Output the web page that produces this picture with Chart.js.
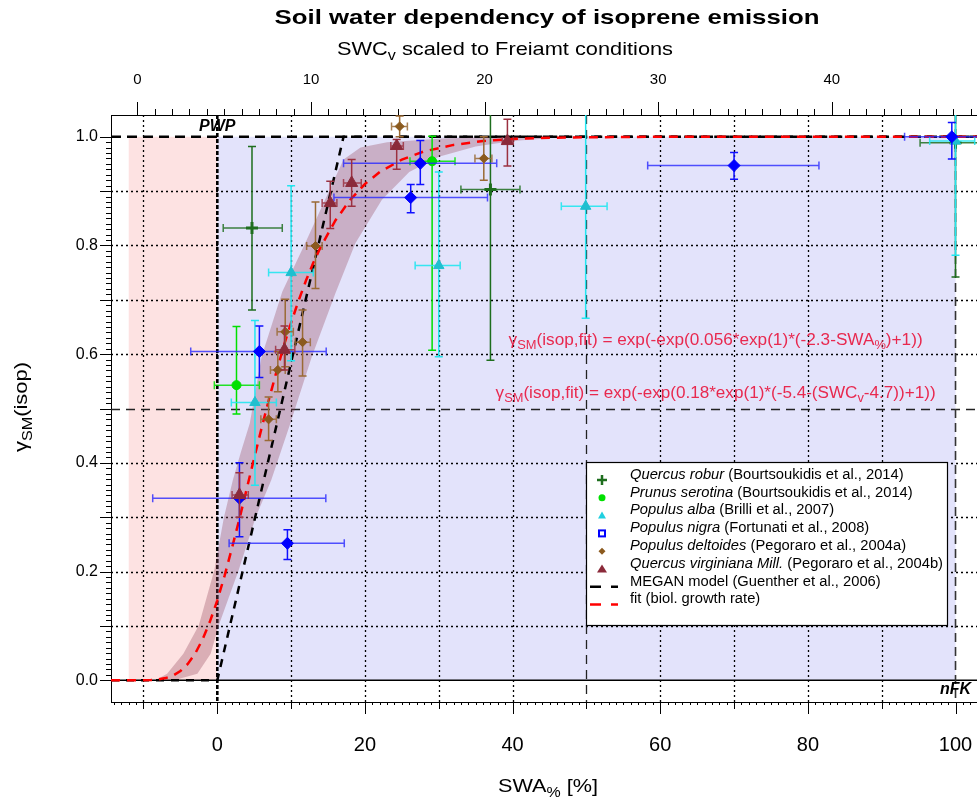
<!DOCTYPE html>
<html>
<head>
<meta charset="utf-8">
<script src="https://cdn.jsdelivr.net/npm/chart.js@4.4.1/dist/chart.umd.min.js"></script>
<style>
  html, body { margin: 0; padding: 0; background: #fff; overflow: hidden; }
  canvas { display: block; }
</style>
</head>
<body>
<canvas id="chart" width="990" height="803"></canvas>
<script>
const FONT = '"Liberation Sans", Arial, sans-serif';

// --- Data ---
// rows: [SWA%, gamma, SWA low, SWA high, gamma low, gamma high]
const quercusRobur = [
  [4.7, 0.832, 0.8, 8.8, 0.681, 0.982],
  [37.0, 0.903, 33.0, 41.0, 0.589, 1.10],
  [100.0, 0.989, 95.2, 108, 0.742, 1.10],
];
const prunusSerotina = [
  [2.6, 0.543, -0.4, 5.7, 0.490, 0.651],
  [29.1, 0.955, 26.1, 32.2, 0.607, 1.001],
];
const populusAlba = [
  [10.0, 0.750, 6.95, 13.0, 0.588, 0.910],
  [5.1, 0.511, 1.9, 8.0, 0.359, 0.662],
  [30.0, 0.763, 26.8, 32.9, 0.595, 0.935],
  [49.9, 0.872, 46.6, 52.8, 0.666, 1.10],
  [100.0, 0.992, 96.5, 102.6, 0.782, 1.10],
];
const populusNigra = [
  [5.7, 0.605, -3.6, 14.75, 0.557, 0.652],
  [3.0, 0.335, -8.75, 14.7, 0.264, 0.400],
  [9.5, 0.252, 1.6, 17.2, 0.222, 0.277],
  [26.2, 0.888, 15.8, 36.6, 0.860, 0.912],
  [27.5, 0.951, 17.1, 37.85, 0.912, 0.993],
  [70.0, 0.947, 58.3, 81.5, 0.922, 0.971],
  [99.5, 1.000, 93.1, 108, 0.959, 1.026],
];
const populusDeltoides = [
  [24.7, 1.019, 23.6, 25.75, 1.000, 1.038],
  [36.1, 0.960, 34.9, 37.2, 0.920, 1.000],
  [13.3, 0.799, 12.1, 14.2, 0.721, 0.880],
  [11.55, 0.622, 10.55, 12.6, 0.560, 0.681],
  [9.2, 0.641, 8.1, 10.3, 0.577, 0.701],
  [8.2, 0.571, 7.2, 9.2, 0.531, 0.605],
  [6.95, 0.480, 5.9, 8.0, 0.441, 0.521],
];
const quercusVirginiana = [
  [18.2, 0.915, 17.1, 19.5, 0.872, 0.958],
  [15.3, 0.878, 14.2, 16.2, 0.831, 0.918],
  [24.3, 0.983, 23.5, 25.2, 0.940, 0.995],
  [39.3, 0.992, 38.6, 40.1, 0.946, 1.032],
  [9.1, 0.608, 7.9, 10.5, 0.571, 0.652],
  [3.0, 0.341, 2.0, 4.2, 0.300, 0.382],
];

// MEGAN model (piecewise linear)
const meganX = [-14.4, 0, 17.1, 104.4];
const meganY = [0, 0, 1, 1];

// fitted curve
const fitX = [-14.4, -12, -10, -9, -8, -7, -6, -5, -4, -3, -2, -1, 0, 1, 2, 3, 4, 5, 6, 7, 8, 9,
  10, 11, 12, 13, 14, 16, 18, 20, 22, 25, 28, 32, 36, 40, 45, 50, 60, 104.4];
const fitY = [0, 0, 0.0002, 0.0005, 0.0015, 0.004, 0.0085, 0.017, 0.030, 0.049, 0.075, 0.108,
  0.147, 0.193, 0.244, 0.297, 0.353, 0.409, 0.464, 0.517, 0.567, 0.615, 0.658, 0.698, 0.735,
  0.768, 0.797, 0.846, 0.884, 0.913, 0.935, 0.958, 0.973, 0.985, 0.992, 0.996, 0.998, 0.999, 1, 1];

// shaded band around the fit
const bandUpX = [-8.4, -6.8, -4.6, -2.5, -0.4, 0.9, 2.1, 3.2, 4.4, 6.0, 8.8, 11.9, 15.0, 17.1, 19.4, 23, 31, 40, 45];
const bandUpY = [0, 0.012, 0.049, 0.101, 0.203, 0.300, 0.368, 0.420, 0.473, 0.595, 0.715, 0.804, 0.896, 0.958, 0.980, 0.990, 0.997, 1.0, 1.0];
const bandLoX = [-8.4, -5.4, -2.7, -0.9, 0.2, 2.9, 5.2, 7.3, 9.9, 12.8, 16.0, 18.7, 22.3, 26, 30, 35, 40, 45];
const bandLoY = [0, 0.002, 0.012, 0.049, 0.101, 0.203, 0.300, 0.368, 0.473, 0.595, 0.712, 0.804, 0.884, 0.935, 0.963, 0.982, 0.992, 0.997];

// axes
const xTickVals = [0, 20, 40, 60, 80, 100];
const x2TickVals = [0, 10, 20, 30, 40];
const yTickVals = [0, 0.2, 0.4, 0.6, 0.8, 1.0];
const gridX = [-10, 10, 20, 30, 40, 60, 70, 80, 90];
const gridY = [0.1, 0.2, 0.3, 0.4, 0.6, 0.7, 0.8, 0.9];

const legendNames = ['Quercus robur', 'Prunus serotina', 'Populus alba', 'Populus nigra',
  'Populus deltoides', 'Quercus virginiana Mill.', 'MEGAN model (Guenther et al., 2006)', 'fit (biol. growth rate)'];
const legendRefs = [' (Bourtsoukidis et al., 2014)', ' (Bourtsoukidis et al., 2014)', ' (Brilli et al., 2007)',
  ' (Fortunati et al., 2008)', ' (Pegoraro et al., 2004a)', ' (Pegoraro et al., 2004b)', '', ''];

const RED_TXT = '#e8294f';

// --- Helpers ---
const pts = (xs, ys) => xs.map((x, i) => ({ x, y: ys[i] }));

// parts: [text, isSub, italic, bold]; width (optional) stretches the run horizontally
function richText(ctx, parts, x, y, align, size, color, width) {
  const fontOf = p => `${p[2] ? 'italic ' : ''}${p[3] ? 'bold ' : ''}${p[1] ? Math.round(size * 0.72) : size}px ${FONT}`;
  let w = 0;
  for (const p of parts) { ctx.font = fontOf(p); w += ctx.measureText(p[0]).width; }
  const sx = width ? width / w : 1;
  ctx.save();
  const left = align === 'center' ? x - w * sx / 2 : align === 'right' ? x - w * sx : x;
  ctx.translate(left, y);
  ctx.scale(sx, 1);
  ctx.fillStyle = color;
  ctx.textBaseline = 'middle';
  ctx.textAlign = 'left';
  let cx = 0;
  for (const p of parts) {
    ctx.font = fontOf(p);
    ctx.fillText(p[0], cx, p[1] ? size * 0.3 : 0);
    cx += ctx.measureText(p[0]).width;
  }
  ctx.restore();
  return w;
}

function seriesDataset(label, rows, color, errColor, xErrColor, style, radius, order, extra) {
  return Object.assign({
    label, type: 'line', showLine: false, order,
    data: rows.map(r => ({ x: r[0], y: r[1] })),
    errRows: rows, errColor, xErrColor,
    pointStyle: style, pointRadius: radius,
    pointBackgroundColor: color, pointBorderColor: color, pointBorderWidth: 1,
  }, extra || {});
}

// --- Plugins ---
const backdrop = {
  id: 'backdrop',
  beforeDatasetsDraw(chart) {
    const { ctx, chartArea: a, scales: { x, y } } = chart;
    ctx.save();
    ctx.beginPath(); ctx.rect(a.left, a.top, a.right - a.left, a.bottom - a.top); ctx.clip();
    const y0 = y.getPixelForValue(0), y1 = y.getPixelForValue(1);
    ctx.fillStyle = '#fde2e2';
    ctx.fillRect(x.getPixelForValue(-12), y1, x.getPixelForValue(0) - x.getPixelForValue(-12), y0 - y1);
    ctx.fillStyle = '#e3e3fb';
    ctx.fillRect(x.getPixelForValue(0), y1, x.getPixelForValue(100) - x.getPixelForValue(0), y0 - y1);

    const line = (x0, y0_, x1, y1_, w, dash, col) => {
      ctx.beginPath(); ctx.lineWidth = w; ctx.setLineDash(dash); ctx.strokeStyle = col;
      ctx.moveTo(x0, y0_); ctx.lineTo(x1, y1_); ctx.stroke();
    };
    for (const v of gridX) {
      const p = Math.round(x.getPixelForValue(v)) + 0.5;
      line(p, a.top, p, a.bottom, 1.3, [2, 3], '#000');
    }
    for (const v of gridY) {
      const p = Math.round(y.getPixelForValue(v)) + 0.5;
      line(a.left, p, a.right, p, 1.3, [2, 3], '#000');
    }
    // reference lines
    const yHalf = Math.round(y.getPixelForValue(0.5)) + 0.5;
    line(a.left, yHalf, a.right, yHalf, 1.3, [9, 6], '#222');
    const x50 = Math.round(x.getPixelForValue(50)) + 0.5;
    line(x50, a.top, x50, a.bottom, 1.3, [9, 6], '#222');
    line(a.left, y0, a.right, y0, 1.5, [], '#000');
    const x100 = x.getPixelForValue(100);
    line(x100, a.top, x100, a.bottom, 1.6, [9, 5], '#333');
    line(a.left, y1, a.right, y1, 2.5, [10, 6], '#000');
    const xp = x.getPixelForValue(0);
    line(xp, a.top, xp, a.bottom, 2.6, [4, 2], '#000');
    ctx.restore();
  },
};

const errorBars = {
  id: 'errorBars',
  beforeDatasetDraw(chart, args) {
    const ds = chart.data.datasets[args.index];
    if (!ds.errRows) return;
    const { ctx, chartArea: a, scales: { x, y } } = chart;
    const cap = 4;
    ctx.save();
    ctx.beginPath(); ctx.rect(a.left, a.top, a.right - a.left, a.bottom - a.top); ctx.clip();
    ctx.lineWidth = 1.5;
    ctx.setLineDash([]);
    for (const r of ds.errRows) {
      const cx = x.getPixelForValue(r[0]), cy = y.getPixelForValue(r[1]);
      const xl = x.getPixelForValue(r[2]), xh = x.getPixelForValue(r[3]);
      const yl = y.getPixelForValue(r[4]), yh = y.getPixelForValue(r[5]);
      ctx.strokeStyle = ds.xErrColor;
      ctx.beginPath();
      ctx.moveTo(xl, cy); ctx.lineTo(xh, cy);
      ctx.moveTo(xl, cy - cap); ctx.lineTo(xl, cy + cap);
      ctx.moveTo(xh, cy - cap); ctx.lineTo(xh, cy + cap);
      ctx.stroke();
      ctx.strokeStyle = ds.errColor;
      ctx.beginPath();
      ctx.moveTo(cx, yl); ctx.lineTo(cx, yh);
      ctx.moveTo(cx - cap, yl); ctx.lineTo(cx + cap, yl);
      ctx.moveTo(cx - cap, yh); ctx.lineTo(cx + cap, yh);
      ctx.stroke();
    }
    ctx.restore();
  },
};

// tick marks and tick labels, placed through the scales
const axisTicks = {
  id: 'axisTicks',
  afterDraw(chart) {
    const { ctx, chartArea: a, scales: { x, x2, y } } = chart;
    ctx.save();
    ctx.strokeStyle = '#000';
    ctx.lineWidth = 1;
    ctx.beginPath();
    // left axis: every 0.01, longer every 0.1
    for (let i = 0; i <= 100; i++) {
      const p = Math.round(y.getPixelForValue(i / 100)) + 0.5;
      const len = i % 10 === 0 ? 11 : 5;
      ctx.moveTo(a.left - len, p); ctx.lineTo(a.left, p);
    }
    // bottom axis: every 1, longer every 10 and 20
    for (let v = -14; v <= 104; v++) {
      const p = Math.round(x.getPixelForValue(v)) + 0.5;
      const len = v % 20 === 0 ? 12 : v % 10 === 0 ? 7 : 3;
      ctx.moveTo(p, a.bottom); ctx.lineTo(p, a.bottom + len);
    }
    // top axis: every 1, longer every 10
    for (let v = 0; v <= 49; v++) {
      const p = Math.round(x2.getPixelForValue(v)) + 0.5;
      const len = v % 10 === 0 ? 13 : 6;
      ctx.moveTo(p, a.top); ctx.lineTo(p, a.top - len);
    }
    ctx.stroke();

    ctx.fillStyle = '#000';
    ctx.textBaseline = 'middle';
    ctx.textAlign = 'center';
    ctx.font = `20px ${FONT}`;
    for (const v of xTickVals) ctx.fillText(String(v), x.getPixelForValue(v), a.bottom + 43);
    ctx.font = `15px ${FONT}`;
    for (const v of x2TickVals) ctx.fillText(String(v), x2.getPixelForValue(v), a.top - 35);
    ctx.textAlign = 'right';
    ctx.font = `16px ${FONT}`;
    for (const v of yTickVals) ctx.fillText(v.toFixed(1), a.left - 13, y.getPixelForValue(v));
    ctx.restore();
  },
};

const annotations = {
  id: 'annotations',
  afterDraw(chart) {
    const { ctx, scales: { x, y } } = chart;
    ctx.save();
    // titles
    richText(ctx, [['Soil water dependency of isoprene emission', false, false, true]], 547, 18, 'center', 21, '#000', 545);
    richText(ctx, [['SWC', false], ['v', true], [' scaled to Freiamt conditions', false]], 505, 50, 'center', 19, '#000', 336);
    richText(ctx, [['SWA', false], ['%', true], [' [%]', false]], 548, 787, 'center', 19, '#000', 100);
    ctx.save();
    ctx.translate(22, 407);
    ctx.rotate(-Math.PI / 2);
    richText(ctx, [['\u03b3', false], ['SM', true], ['(isop)', false]], 0, 0, 'center', 19, '#000', 90);
    ctx.restore();

    // PWP / nFK
    richText(ctx, [['PWP', false, true, true]], x.getPixelForValue(0), 127, 'center', 16, '#000');
    richText(ctx, [['nFK', false, true, true]], x.getPixelForValue(100), 690, 'center', 16, '#000');

    // fit formulas
    const fx = x.getPixelForValue(67.5);
    richText(ctx, [['\u03b3', false], ['SM', true], ['(isop,fit) = exp(-exp(0.056*exp(1)*(-2.3-SWA', false], ['%', true], [')+1))', false]],
      fx, y.getPixelForValue(0.625), 'center', 16, RED_TXT, 414);
    richText(ctx, [['\u03b3', false], ['SM', true], ['(isop,fit) = exp(-exp(0.18*exp(1)*(-5.4-(SWC', false], ['v', true], ['-4.7))+1))', false]],
      fx, y.getPixelForValue(0.527), 'center', 16, RED_TXT, 440);

    // legend
    const bx = 586, by = 462, bw = 361, bh = 163;
    ctx.fillStyle = '#fff';
    ctx.fillRect(bx, by, bw, bh);
    ctx.strokeStyle = '#000';
    ctx.lineWidth = 1.2;
    ctx.strokeRect(bx + 0.5, by + 0.5, bw, bh);
    const sx = 602, tx = 630, lsize = 14;
    // stretch so the longest entry spans the same width as in the figure
    ctx.font = `italic ${lsize}px ${FONT}`;
    let wl = ctx.measureText(legendNames[5]).width;
    ctx.font = `${lsize}px ${FONT}`;
    wl += ctx.measureText(legendRefs[5]).width;
    const stretch = 313 / wl;
    for (let i = 0; i < legendNames.length; i++) {
      const ty = 475 + i * 17.8;
      const syy = ty + 5;
      ctx.save();
      ctx.setLineDash([]);
      if (i === 0) {
        ctx.strokeStyle = '#1e6e1e'; ctx.lineWidth = 2.5; ctx.beginPath();
        ctx.moveTo(sx - 5, syy); ctx.lineTo(sx + 5, syy); ctx.moveTo(sx, syy - 5); ctx.lineTo(sx, syy + 5); ctx.stroke();
      } else if (i === 1) {
        ctx.fillStyle = '#00e000'; ctx.beginPath(); ctx.arc(sx, syy, 3.5, 0, Math.PI * 2); ctx.fill();
      } else if (i === 2) {
        ctx.fillStyle = '#1fd0e0'; ctx.beginPath();
        ctx.moveTo(sx, syy - 4); ctx.lineTo(sx + 4, syy + 3); ctx.lineTo(sx - 4, syy + 3); ctx.closePath(); ctx.fill();
      } else if (i === 3) {
        ctx.strokeStyle = '#0000ff'; ctx.lineWidth = 2; ctx.strokeRect(sx - 3, syy - 3, 6, 6);
      } else if (i === 4) {
        ctx.fillStyle = '#8b5a1e'; ctx.beginPath();
        ctx.moveTo(sx, syy - 3.5); ctx.lineTo(sx + 3.5, syy); ctx.lineTo(sx, syy + 3.5); ctx.lineTo(sx - 3.5, syy); ctx.closePath(); ctx.fill();
      } else if (i === 5) {
        ctx.fillStyle = '#8b2a3a'; ctx.beginPath();
        ctx.moveTo(sx, syy - 4.5); ctx.lineTo(sx + 5, syy + 3.5); ctx.lineTo(sx - 5, syy + 3.5); ctx.closePath(); ctx.fill();
      } else {
        ctx.strokeStyle = i === 6 ? '#000' : '#ff0000'; ctx.lineWidth = 2.5; ctx.setLineDash([11, 10]);
        ctx.beginPath(); ctx.moveTo(590, syy); ctx.lineTo(618, syy); ctx.stroke();
      }
      ctx.restore();
      const parts = i < 6 ? [[legendNames[i], false, true], [legendRefs[i], false]] : [[legendNames[i], false]];
      let w = 0;
      for (const p of parts) { ctx.font = `${p[2] ? 'italic ' : ''}${lsize}px ${FONT}`; w += ctx.measureText(p[0]).width; }
      richText(ctx, parts, tx, ty, 'left', lsize, '#000', w * stretch);
    }
    ctx.restore();
  },
};

// --- Chart ---
const datasets = [
  { label: 'band upper', type: 'line', data: pts(bandUpX, bandUpY), borderWidth: 0, pointRadius: 0, fill: false, order: 10 },
  { label: 'band lower', type: 'line', data: pts(bandLoX, bandLoY), borderWidth: 0, pointRadius: 0,
    fill: '-1', backgroundColor: 'rgba(150,70,90,0.33)', order: 10 },
  { label: 'MEGAN', type: 'line', data: pts(meganX, meganY), borderColor: '#000', borderWidth: 2.5,
    borderDash: [8, 7], pointRadius: 0, fill: false, order: 9 },
  { label: 'fit', type: 'line', data: pts(fitX, fitY), borderColor: '#ff0000', borderWidth: 2.5,
    borderDash: [9, 7], pointRadius: 0, fill: false, tension: 0, order: 8 },
  seriesDataset('Quercus robur', quercusRobur, '#1e6e1e', '#1e6e1e', 'rgba(30,110,30,0.85)', 'cross', 6, 6,
    { pointBorderWidth: 3 }),
  seriesDataset('Prunus serotina', prunusSerotina, '#00e000', '#00e000', 'rgba(0,224,0,0.85)', 'circle', 4.5, 5),
  seriesDataset('Populus alba', populusAlba, '#1fbfcf', '#22e6f0', 'rgba(34,230,240,0.9)', 'triangle', 6, 4),
  seriesDataset('Populus nigra', populusNigra, '#0000ff', '#1010ff', 'rgba(40,40,255,0.8)', 'rectRot', 6, 3),
  seriesDataset('Populus deltoides', populusDeltoides, '#8b5a1e', '#9a6a35', 'rgba(154,106,53,0.85)', 'rectRot', 4.5, 2),
  seriesDataset('Quercus virginiana', quercusVirginiana, '#8b2a3a', '#9b3040', 'rgba(155,48,64,0.85)', 'triangle', 7, 1),
];

// keep the plot box fixed; labels are drawn by the axisTicks plugin
const fixBox = size => ax => {
  if (ax.isHorizontal()) ax.height = size; else ax.width = size;
  ax.paddingLeft = ax.paddingRight = ax.paddingTop = ax.paddingBottom = 0;
};
const axisBase = {
  type: 'linear',
  ticks: { display: false },
  grid: { display: false, drawTicks: false },
  border: { display: true, color: '#000', width: 1 },
};

new Chart(document.getElementById('chart').getContext('2d'), {
  type: 'line',
  data: { datasets },
  options: {
    responsive: false,
    animation: false,
    events: [],
    layout: { autoPadding: false, padding: { left: 0, right: 2, top: 0, bottom: 0 } },
    plugins: { legend: { display: false }, tooltip: { enabled: false }, title: { display: false } },
    scales: {
      x: { ...axisBase, position: 'bottom', min: -14.4, max: 104.4, afterFit: fixBox(101) },
      x2: { ...axisBase, position: 'top', min: -1.52, max: 49.0, afterFit: fixBox(115) },
      y: { ...axisBase, position: 'left', min: -0.04, max: 1.04, afterFit: fixBox(111) },
    },
  },
  plugins: [backdrop, errorBars, axisTicks, annotations],
});
</script>
</body>
</html>
